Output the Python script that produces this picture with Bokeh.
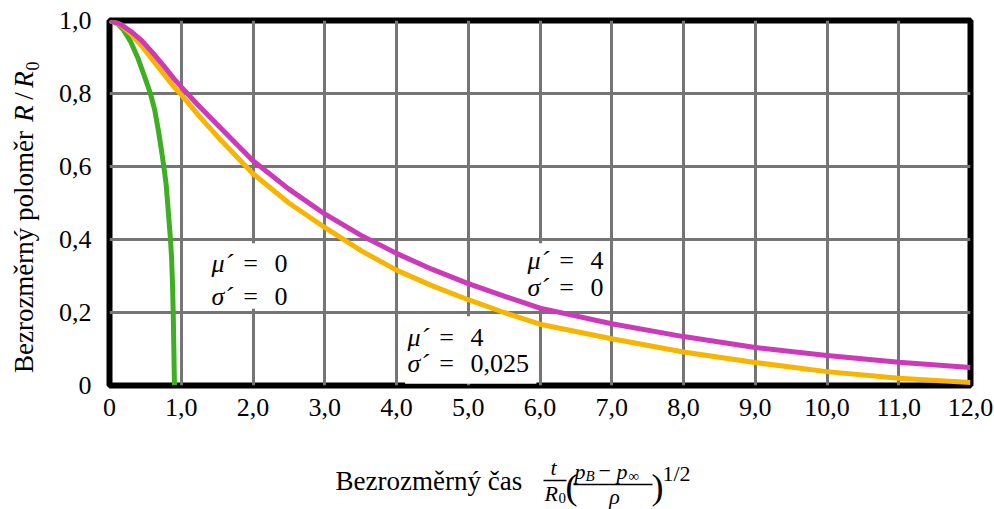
from math import pi

from bokeh.core.properties import value
from bokeh.embed import file_html
from bokeh.layouts import column, row
from bokeh.models import ColumnDataSource, FixedTicker, Range1d
from bokeh.plotting import figure
from bokeh.resources import INLINE

# Dimensionless time and radius R/R0 for the three collapse cases
t_inviscid = [0, 0.1, 0.2, 0.3, 0.4, 0.5, 0.57, 0.63, 0.68, 0.72, 0.757, 0.79, 0.81, 0.83,
              0.85, 0.865, 0.878, 0.888, 0.897, 0.905]
r_inviscid = [1.0, 0.994, 0.973, 0.94, 0.895, 0.84, 0.8, 0.755, 0.70, 0.65, 0.6, 0.55, 0.5,
              0.45, 0.4, 0.35, 0.28, 0.2, 0.1, 0.0]

t_viscous = [0, 0.15, 0.3, 0.45, 0.6, 0.75, 0.9, 1.0, 1.25, 1.5, 2.0, 2.5, 3.0, 3.5, 4.0,
             4.5, 5.0, 5.5, 6.0, 7.0, 8.0, 9.0, 10.0, 11.0, 12.0]
r_viscous = [1.0, 0.99, 0.97, 0.945, 0.912, 0.877, 0.84, 0.818, 0.765, 0.715, 0.616, 0.538,
             0.47, 0.412, 0.362, 0.318, 0.279, 0.245, 0.212, 0.169, 0.134, 0.104, 0.082,
             0.064, 0.049]

t_tension = [0, 0.15, 0.3, 0.45, 0.6, 0.75, 0.9, 1.0, 1.25, 1.5, 2.0, 2.5, 3.0, 3.5, 4.0,
             4.5, 5.0, 5.5, 6.0, 7.0, 8.0, 9.0, 10.0, 11.0, 12.0]
r_tension = [1.0, 0.988, 0.963, 0.93, 0.892, 0.855, 0.818, 0.797, 0.738, 0.683, 0.58, 0.5,
             0.433, 0.37, 0.316, 0.273, 0.235, 0.2, 0.168, 0.128, 0.092, 0.063, 0.038,
             0.02, 0.008]

x_ticks = [0, 1, 2, 3, 4, 5, 6, 7, 8, 9, 10, 11, 12]
x_tick_labels = ["0", "1,0", "2,0", "3,0", "4,0", "5,0", "6,0", "7,0", "8,0", "9,0",
                 "10,0", "11,0", "12,0"]
y_ticks = [0, 0.2, 0.4, 0.6, 0.8, 1]
y_tick_labels = ["0", "0,2", "0,4", "0,6", "0,8", "1,0"]

# parameter boxes: (mu', sigma') values
params = [("0", "0"), ("4", "0"), ("4", "0,025")]

SERIF = "Liberation Serif"
GREEN = "#3fae22"
ORANGE = "#f7b500"
MAGENTA = "#cc3ab9"
LEFT_W = 50      # strip holding the vertical axis title
MAIN_H = 430     # plot area height; the strip below holds the horizontal title
PAGE_W, PAGE_H = 994, 509

# ---------------------------------------------------------------- main plot
p = figure(width=PAGE_W - LEFT_W, height=MAIN_H, x_range=Range1d(0, 12), y_range=Range1d(0, 1),
           output_backend="svg", toolbar_location=None,
           min_border_left=109 - LEFT_W, min_border_right=24, min_border_top=20,
           min_border_bottom=MAIN_H - 385)
p.background_fill_color = "white"
p.border_fill_color = "white"
p.outline_line_color = "black"
p.outline_line_width = 6

for ax, ticks, labels in ((p.xaxis[0], x_ticks, x_tick_labels), (p.yaxis[0], y_ticks, y_tick_labels)):
    ax.ticker = FixedTicker(ticks=ticks)
    ax.major_label_overrides = dict(zip(ticks, labels))
    ax.axis_line_color = None
    ax.major_tick_line_color = None
    ax.minor_tick_line_color = None
    ax.major_label_text_font = SERIF
    ax.major_label_text_font_size = "26px"
    ax.major_label_text_color = "black"
p.xaxis.major_label_standoff = 7
p.yaxis.major_label_standoff = 12

p.xgrid.ticker = FixedTicker(ticks=x_ticks)
p.ygrid.ticker = FixedTicker(ticks=y_ticks)
for g in (p.xgrid[0], p.ygrid[0]):
    g.grid_line_color = "#757575"
    g.grid_line_width = 3

# white panels behind the parameter texts
p.quad(left=[1.3, 5.75, 4.12], right=[2.9, 6.95, 5.95], bottom=[0.21, 0.21, 0.005],
       top=[0.39, 0.39, 0.19], fill_color="white", line_color=None)

p.line(t_inviscid, r_inviscid, line_color=GREEN, line_width=5)
p.line(t_tension, r_tension, line_color=ORANGE, line_width=5)
p.line(t_viscous, r_viscous, line_color=MAGENTA, line_width=5)

# parameter annotations: symbol, "=" and value on each row, placed with pixel offsets
anchors = [(1.422, 0.334, 0.244), (5.826, 0.342, 0.268), (4.153, 0.132, 0.060)]
ann = dict(x=[], y=[], text=[], style=[], align=[], dx=[])
for (mu, sig), (ax_, y_mu, y_sig) in zip(params, anchors):
    for sym, val, yy in (("\u03bc\u00b4", mu, y_mu), ("\u03c3\u00b4", sig, y_sig)):
        for txt, style, align, dx in ((sym, "italic", "left", 0), ("=", "normal", "center", 39),
                                      (val, "normal", "left", 63)):
            ann["x"].append(ax_)
            ann["y"].append(yy)
            ann["text"].append(txt)
            ann["style"].append(style)
            ann["align"].append(align)
            ann["dx"].append(dx)
p.text(x="x", y="y", text="text", source=ColumnDataSource(ann), text_font=value(SERIF),
       text_font_size=value("26px"), text_font_style="style", text_align="align",
       x_offset="dx", text_baseline="middle", text_color="black")


def strip(width, height):
    """A bare figure whose data units are its own pixels, origin bottom-left."""
    f = figure(frame_width=width, frame_height=height, x_range=Range1d(0, width),
               y_range=Range1d(0, height), output_backend="svg", toolbar_location=None,
               min_border=0, x_axis_location=None, y_axis_location=None)
    f.outline_line_color = None
    f.grid.visible = False
    f.background_fill_color = "white"
    f.border_fill_color = "white"
    return f


# ---------------------------------------------------------------- horizontal title
# positions are the vertical middles of each piece, measured down from the strip top
XS_H = PAGE_H - MAIN_H
fx = strip(PAGE_W, XS_H)
xt = dict(
    x=[335, 553, 544, 558, 565, 574, 585, 598, 616, 628, 614, 651, 662],
    y=[XS_H - v for v in (50.8, 36.5, 62.5, 67.9, 56.4, 40.5, 45.9, 40.5, 40.5, 45.9, 65.5,
                          56.4, 42.5)],
    text=["Bezrozm\u011brn\u00fd \u010das", "t", "R", "0", "(", "p", "B", "\u2212", "p", "\u221e",
          "\u03c1", ")", "1/2"],
    size=["27px", "22px", "22px", "15px", "36px", "22px", "15px", "22px", "22px", "15px",
          "22px", "36px", "22px"],
    style=["normal", "italic", "italic", "normal", "normal", "italic", "italic", "normal",
           "italic", "normal", "italic", "normal", "normal"],
    align=["left", "center", "left", "left", "left", "left", "left", "left", "left", "left",
           "center", "left", "left"],
)
fx.text(x="x", y="y", text="text", source=ColumnDataSource(xt), text_font=value(SERIF),
        text_font_size="size", text_font_style="style", text_align="align",
        text_baseline="middle", text_color="black")
fx.segment(x0=[543, 573], y0=[XS_H - 50, XS_H - 54], x1=[566, 652], y1=[XS_H - 50, XS_H - 54],
           line_color="black", line_width=1.3)

# ---------------------------------------------------------------- vertical title
# pieces are centred on their own midpoints along the reading direction
fy = strip(LEFT_W, MAIN_H)
yt = dict(
    x=[23.8, 23.8, 23.8, 23.8, 31.9],
    y=[MAIN_H - v for v in (231.5, 93, 75.5, 59, 45.5)],
    text=["Bezrozm\u011brn\u00fd polom\u011br", "R", "/", "R", "0"],
    size=["27px", "27px", "27px", "27px", "18px"],
    style=["normal", "italic", "normal", "italic", "normal"],
)
fy.text(x="x", y="y", text="text", source=ColumnDataSource(yt), text_font=value(SERIF),
        text_font_size="size", text_font_style="style", text_align="center",
        text_baseline="middle", angle=pi / 2, text_color="black")

layout = column(row(fy, p, spacing=0), fx, spacing=0)
open("out.html", "w").write(file_html(layout, INLINE))
